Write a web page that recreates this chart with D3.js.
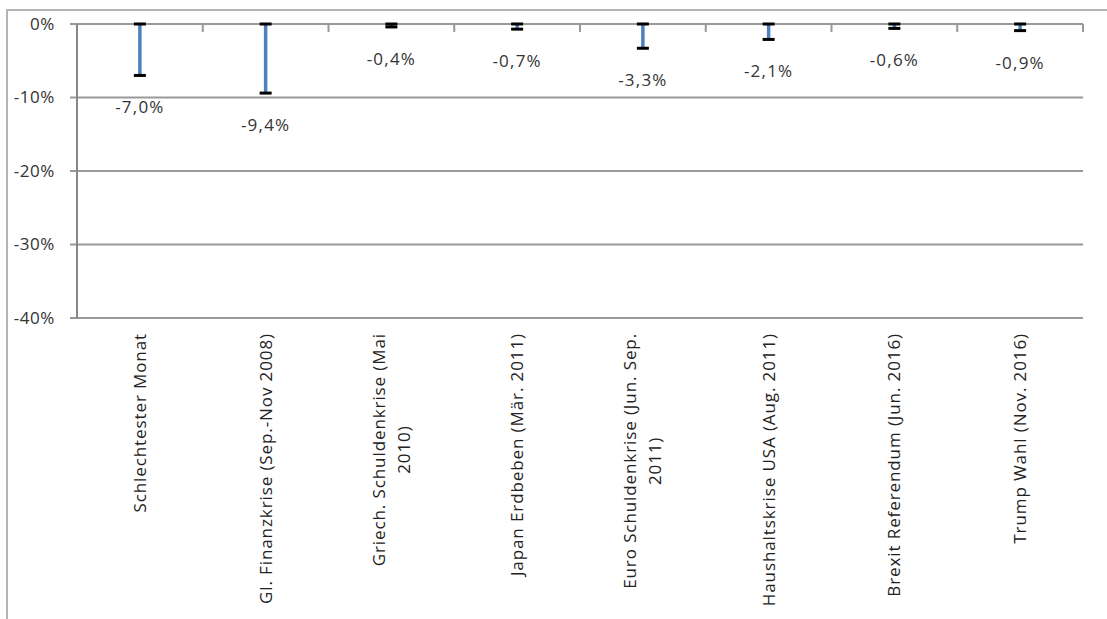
<!DOCTYPE html>
<html>
<head>
<meta charset="utf-8">
<script src="https://cdn.jsdelivr.net/npm/d3@7"></script>
<style>
  body { margin: 0; background: #fff; }
  svg { display: block; }
</style>
</head>
<body>
<svg></svg>
<script>
// categories and values (percent change)
const categories = [
  ["Schlechtester Monat"],
  ["Gl. Finanzkrise (Sep.-Nov 2008)"],
  ["Griech. Schuldenkrise (Mai", "2010)"],
  ["Japan Erdbeben (Mär. 2011)"],
  ["Euro Schuldenkrise (Jun. Sep.", "2011)"],
  ["Haushaltskrise USA (Aug. 2011)"],
  ["Brexit Referendum (Jun. 2016)"],
  ["Trump Wahl (Nov. 2016)"]
];
const values = [-7.0, -9.4, -0.4, -0.7, -3.3, -2.1, -0.6, -0.9];
const yTicks = [0, -10, -20, -30, -40];

const width = 1107, height = 619;
const svg = d3.select("svg").attr("width", width).attr("height", height);
const font = "'Open Sans', sans-serif";

// outer frame
svg.append("path")
   .attr("d", `M7,${height} V10 H${width}`)
   .attr("fill", "none")
   .attr("stroke", "#b4b4b4")
   .attr("stroke-width", 2);

const margin = { top: 24, left: 77, right: 24, bottom: 301 };
const chartWidth = width - margin.left - margin.right;   // 1006
const chartHeight = height - margin.top - margin.bottom; // 294

const chart = svg.append("g").attr("transform", `translate(${margin.left},${margin.top})`);

const x = d3.scaleBand().domain(d3.range(categories.length)).range([0, chartWidth]);
const y = d3.scaleLinear().domain([-40, 0]).range([chartHeight, 0]);

// gridlines
chart.selectAll(".grid")
     .data(yTicks)
     .join("line")
     .attr("x1", -7).attr("x2", chartWidth)
     .attr("y1", d => y(d)).attr("y2", d => y(d))
     .attr("stroke", "#999")
     .attr("stroke-width", 2);

// y axis line
chart.append("line")
     .attr("x1", 0).attr("x2", 0)
     .attr("y1", 0).attr("y2", chartHeight)
     .attr("stroke", "#888")
     .attr("stroke-width", 2);

// y tick labels
chart.selectAll(".ylab")
     .data(yTicks)
     .join("text")
     .attr("x", -22)
     .attr("y", d => y(d))
     .attr("dy", "0.35em")
     .attr("text-anchor", "end")
     .attr("font-family", font)
     .attr("font-size", 17)
     .attr("letter-spacing", 0.6)
     .attr("fill", "#333")
     .text(d => d + "%");

// category ticks on the zero line
const bounds = d3.range(categories.length + 1).map(i => i * x.step());
chart.selectAll(".xtick")
     .data(bounds.slice(1))
     .join("line")
     .attr("x1", d => d).attr("x2", d => d)
     .attr("y1", y(0)).attr("y2", y(0) + 8)
     .attr("stroke", "#999")
     .attr("stroke-width", 2);

// error-bar style ranges from 0 to value
const cx = i => x(i) + x.bandwidth() / 2;
chart.selectAll(".bar")
     .data(values)
     .join("line")
     .attr("x1", (d, i) => cx(i)).attr("x2", (d, i) => cx(i))
     .attr("y1", y(0)).attr("y2", d => y(d))
     .attr("stroke", "#4f81bd")
     .attr("stroke-width", 3.5);

const caps = values.flatMap((v, i) => [{ i, v: 0 }, { i, v }]);
chart.selectAll(".cap")
     .data(caps)
     .join("line")
     .attr("x1", d => cx(d.i) - 6).attr("x2", d => cx(d.i) + 6)
     .attr("y1", d => y(d.v)).attr("y2", d => y(d.v))
     .attr("stroke", "#000")
     .attr("stroke-width", 3);

// value labels
chart.selectAll(".vlab")
     .data(values)
     .join("text")
     .attr("x", (d, i) => cx(i))
     .attr("y", d => y(d) + 32)
     .attr("dy", "0.35em")
     .attr("text-anchor", "middle")
     .attr("font-family", font)
     .attr("font-size", 17)
     .attr("letter-spacing", 1.2)
     .attr("fill", "#333")
     .text(d => d.toFixed(1).replace(".", ",") + "%");

// rotated category labels
const lineH = 25;
categories.forEach((lines, i) => {
  const g = chart.append("g")
    .attr("transform", `translate(${cx(i)},${chartHeight + 15}) rotate(-90)`);
  const t = g.append("text")
    .attr("font-family", font)
    .attr("font-size", 17)
    .attr("letter-spacing", 0.9)
    .attr("fill", "#222")
    .attr("text-anchor", "middle");
  lines.forEach((ln, k) => {
    t.append("tspan")
     .attr("x", 0)
     .attr("y", (k - (lines.length - 1) / 2) * lineH)
     .attr("dy", "0.35em")
     .text(ln);
  });
  const w = d3.max(t.selectAll("tspan").nodes(), n => n.getComputedTextLength());
  t.selectAll("tspan").attr("x", -w / 2);
});
</script>
</body>
</html>
